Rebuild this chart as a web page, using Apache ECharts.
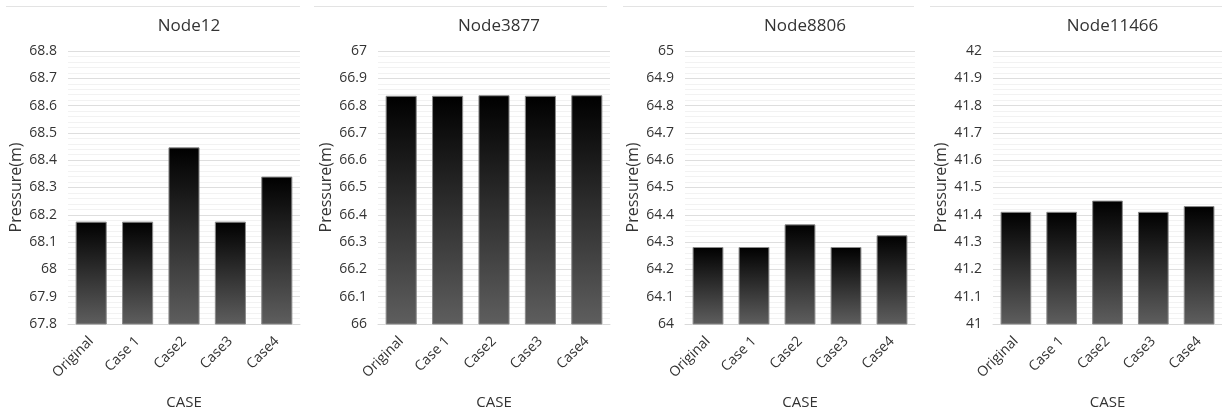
<!DOCTYPE html>
<html>
<head>
<meta charset="utf-8">
<script src="https://cdn.jsdelivr.net/npm/echarts@6/dist/echarts.min.js"></script>
<style>html,body{margin:0;padding:0;background:#fff;}#c{width:1222px;height:417px;}</style>
</head>
<body>
<div id="c"></div>
<script>
const categories = ['Original', 'Case 1', 'Case2', 'Case3', 'Case4'];
const titles = ['Node12', 'Node3877', 'Node8806', 'Node11466'];
const node12 = [68.175, 68.175, 68.447, 68.175, 68.340];
const node3877 = [66.836, 66.836, 66.838, 66.836, 66.838];
const node8806 = [64.282, 64.282, 64.365, 64.282, 64.325];
const node11466 = [41.411, 41.411, 41.452, 41.411, 41.432];
const yMins = [67.8, 66, 64, 41];
const yMaxs = [68.8, 67, 65, 42];
const yInterval = 0.1;
const xAxisName = 'CASE';
const yAxisName = 'Pressure(m)';

const seriesData = [node12, node3877, node8806, node11466];
const lefts = [68, 378, 685, 993];
const widths = [232, 232, 230, 229];
const topLines = [[6, 300], [314, 607], [623, 914], [930, 1222]];
const FONT = 'Open Sans';
const TXT = '#333333';

const chart = echarts.init(document.getElementById('c'));
const grids = [], xAxes = [], yAxes = [], series = [], title = [], graphic = [];
for (let i = 0; i < 4; i++) {
  grids.push({left: lefts[i], width: widths[i], top: 51, bottom: 93, containLabel: false});
  title.push({
    text: titles[i], left: lefts[i] + widths[i] / 2, top: 13, textAlign: 'center',
    textStyle: {fontFamily: FONT, fontSize: 17, fontWeight: 'normal', color: TXT}
  });
  xAxes.push({
    type: 'category', gridIndex: i, data: categories,
    name: xAxisName, nameLocation: 'middle', nameGap: 71,
    nameTextStyle: {fontFamily: FONT, fontSize: 15, color: TXT},
    axisLine: {show: true, lineStyle: {color: '#d9d9d9'}},
    axisTick: {show: false},
    axisLabel: {rotate: 45, fontFamily: FONT, fontSize: 14, color: TXT, margin: 15, interval: 0}
  });
  yAxes.push({
    type: 'value', gridIndex: i, min: yMins[i], max: yMaxs[i], interval: yInterval,
    name: yAxisName, nameLocation: 'middle', nameGap: 44, nameRotate: 90,
    nameTextStyle: {fontFamily: FONT, fontSize: 16, color: TXT},
    axisLine: {show: false}, axisTick: {show: false},
    axisLabel: {fontFamily: FONT, fontSize: 14, color: TXT, margin: 11,
      formatter: v => String(parseFloat(v.toFixed(1)))},
    splitLine: {show: true, lineStyle: {color: '#dedede', width: 1}},
    minorTick: {show: false, splitNumber: 5},
    minorSplitLine: {show: true, lineStyle: {color: '#f2f2f2', width: 1}}
  });
  series.push({
    type: 'bar', xAxisIndex: i, yAxisIndex: i, data: seriesData[i],
    barCategoryGap: '33%',
    itemStyle: {
      color: new echarts.graphic.LinearGradient(0, 0, 0, 1, [
        {offset: 0, color: '#000000'},
        {offset: 1, color: '#5e5e5e'}
      ]),
      borderColor: '#8a8a8a', borderWidth: 1
    }
  });
  graphic.push({
    type: 'line', shape: {x1: topLines[i][0], y1: 6.5, x2: topLines[i][1], y2: 6.5},
    style: {stroke: '#e3e3e3', lineWidth: 1}
  });
}
chart.setOption({
  animation: false,
  backgroundColor: '#ffffff',
  title, grid: grids, xAxis: xAxes, yAxis: yAxes, series, graphic
});
</script>
</body>
</html>
